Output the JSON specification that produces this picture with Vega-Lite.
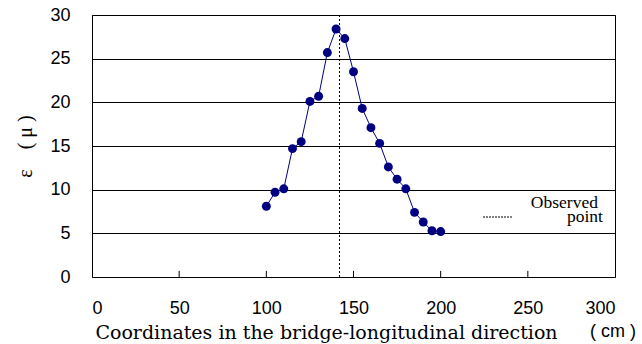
{
  "$schema": "https://vega.github.io/schema/vega-lite/v6.json",
  "width": 523,
  "height": 262,
  "autosize": "none",
  "padding": {"left": 92, "top": 15, "right": 27, "bottom": 67},
  "background": "white",
  "config": {
    "view": {"stroke": "black", "strokeWidth": 1},
    "axis": {"labelFont": "Liberation Sans", "labelFontSize": 18, "labelColor": "black", "domain": false}
  },
  "layer": [
    {
      "data": {"values": [{"x": 142}]},
      "mark": {"type": "rule", "color": "black", "strokeWidth": 1, "strokeDash": [2, 2]},
      "encoding": {
        "x": {"field": "x", "type": "quantitative", "scale": {"domain": [0, 300], "nice": false},
          "axis": {
            "values": [0, 50, 100, 150, 200, 250, 300],
            "grid": false,
            "ticks": false,
            "labelPadding": 22,
            "labelBaseline": "top",
            "title": "Coordinates in the bridge-longitudinal direction",
            "titleFont": "DejaVu Serif",
            "titleFontSize": 19,
            "titleFontWeight": "normal",
            "titleColor": "black",
            "titleX": 234,
            "titleY": 61,
            "titleAlign": "center",
            "titleBaseline": "alphabetic"
          }},
        "y": {"datum": 0, "type": "quantitative"},
        "y2": {"datum": 30}
      }
    },
    {
      "data": {"values": [{"x": 50}, {"x": 100}, {"x": 150}, {"x": 200}, {"x": 250}]},
      "mark": {"type": "rule", "color": "black", "strokeWidth": 1},
      "encoding": {
        "x": {"field": "x", "type": "quantitative"},
        "y": {"datum": 0, "type": "quantitative"},
        "y2": {"datum": 0.7}
      }
    },
    {
      "data": {"values": [
        {"x": 100, "y": 8.1}, {"x": 105, "y": 9.7}, {"x": 110, "y": 10.1}, {"x": 115, "y": 14.7},
        {"x": 120, "y": 15.5}, {"x": 125, "y": 20.1}, {"x": 130, "y": 20.7}, {"x": 135, "y": 25.7},
        {"x": 140, "y": 28.4}, {"x": 145, "y": 27.3}, {"x": 150, "y": 23.5}, {"x": 155, "y": 19.3},
        {"x": 160, "y": 17.1}, {"x": 165, "y": 15.3}, {"x": 170, "y": 12.6}, {"x": 175, "y": 11.2},
        {"x": 180, "y": 10.1}, {"x": 185, "y": 7.4}, {"x": 190, "y": 6.3}, {"x": 195, "y": 5.3},
        {"x": 200, "y": 5.2}
      ]},
      "mark": {"type": "line", "color": "#000080", "strokeWidth": 1, "point": {"filled": true, "size": 80, "color": "#000080", "opacity": 1}},
      "encoding": {
        "x": {"field": "x", "type": "quantitative"},
        "y": {"field": "y", "type": "quantitative", "scale": {"domain": [0, 30], "nice": false},
          "axis": {
            "values": [0, 5, 10, 15, 20, 25, 30],
            "grid": true,
            "gridColor": "black",
            "gridOpacity": 1,
            "gridWidth": 1,
            "ticks": false,
            "labelPadding": 22,
            "title": "ε\u00a0\u00a0\u00a0\u00a0(\u00a0μ\u00a0)",
            "titleFont": "Liberation Serif",
            "titleFontSize": 20,
            "titleFontWeight": "normal",
            "titleColor": "black",
            "titleX": -67,
            "titleY": 131,
            "titleAngle": -90,
            "titleAlign": "center",
            "titleBaseline": "middle"
          }}
      }
    },
    {
      "data": {"values": [{"x1": 224.3, "x2": 241.5, "y": 6.87}]},
      "mark": {"type": "rule", "color": "black", "strokeWidth": 1, "strokeDash": [2, 1]},
      "encoding": {
        "x": {"field": "x1", "type": "quantitative"},
        "x2": {"field": "x2"},
        "y": {"field": "y", "type": "quantitative"}
      }
    },
    {
      "data": {"values": [{"x": 290.2, "y": 7.95, "t": "Observed"}, {"x": 293.1, "y": 6.25, "t": "point"}]},
      "mark": {"type": "text", "font": "Liberation Serif", "fontSize": 17.5, "align": "right", "baseline": "alphabetic", "color": "black"},
      "encoding": {
        "x": {"field": "x", "type": "quantitative"},
        "y": {"field": "y", "type": "quantitative"},
        "text": {"field": "t"}
      }
    },
    {
      "data": {"values": [{"x": 298.9, "y": -6.3, "t": "( cm )"}]},
      "mark": {"type": "text", "font": "Liberation Sans", "fontSize": 18, "align": "center", "baseline": "middle", "color": "black"},
      "encoding": {
        "x": {"field": "x", "type": "quantitative"},
        "y": {"field": "y", "type": "quantitative"},
        "text": {"field": "t"}
      }
    }
  ]
}
